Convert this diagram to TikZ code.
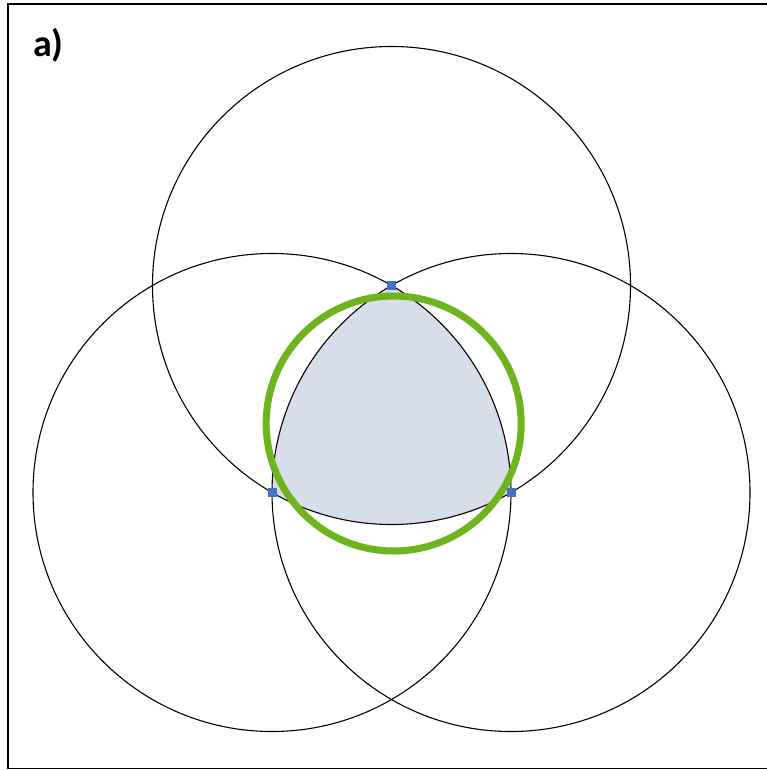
\documentclass[tikz,border=0pt]{standalone}
\usepackage{fontspec}
\setmainfont{Carlito}
\definecolor{reulfill}{RGB}{216,222,233}
\definecolor{ringgreen}{RGB}{110,180,30}
\definecolor{ptblue}{RGB}{68,114,196}
\tikzset{
  thincircle/.style={draw=black, line width=1.1pt},
  greenring/.style={draw=ringgreen, line width=7pt},
  centerpt/.style={fill=ptblue, draw=none, minimum size=9pt, inner sep=0pt, rectangle},
  framestyle/.style={draw=black, line width=1.4pt},
}
\begin{document}
\begin{tikzpicture}[x=1pt, y=-1pt]
\useasboundingbox (0,0) rectangle (766,770);
\coordinate (A) at (272,492.5);
\coordinate (B) at (511,492.5);
\coordinate (C) at (391.5,285.5);
\coordinate (G) at (393.7,423.5);
% frame
\coordinate (f1) at (780,4);
\coordinate (f2) at (8,4);
\coordinate (f3) at (8,768.5);
\coordinate (f4) at (780,768.5);
\draw[framestyle] (f1) -- (f2) -- (f3) -- (f4);
% Reuleaux triangle fill
\begin{scope}
  \clip (A) circle[radius=239pt];
  \clip (B) circle[radius=239pt];
  \fill[reulfill] (C) circle[radius=239pt];
\end{scope}
% three circles
\draw[thincircle] (A) circle[radius=239pt];
\draw[thincircle] (B) circle[radius=239pt];
\draw[thincircle] (C) circle[radius=239pt];
% green circle
\draw[greenring] (G) circle[radius=127.5pt];
% centre points
\node[centerpt] (pA) at (A) {};
\node[centerpt] (pB) at (B) {};
\node[centerpt] (pC) at (C) {};
% label
\node[anchor=base west, inner sep=0pt, font=\fontsize{38}{44}\selectfont\bfseries] (lbl) at (33,57) {a)};
\end{tikzpicture}
\end{document}
